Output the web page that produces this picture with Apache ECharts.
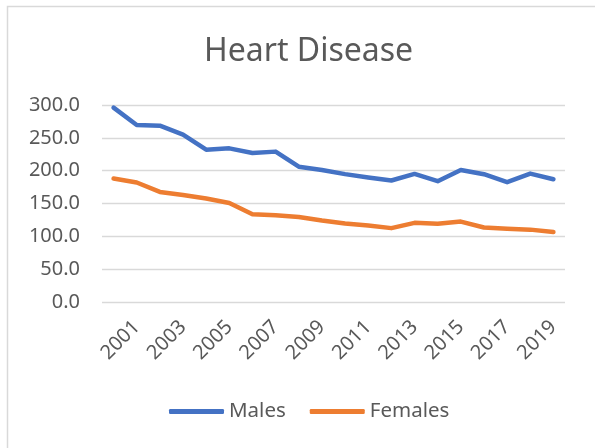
<!DOCTYPE html>
<html>
<head>
<meta charset="utf-8">
<script src="https://cdn.jsdelivr.net/npm/echarts@6/dist/echarts.min.js"></script>
<style>
  html, body { margin: 0; padding: 0; background: #fff; }
  #main { width: 595px; height: 448px; }
</style>
</head>
<body>
<div id="main"></div>
<script>
// years on the category axis, only odd years get a label
var years = ['2000', '2001', '2002', '2003', '2004', '2005', '2006', '2007', '2008', '2009',
             '2010', '2011', '2012', '2013', '2014', '2015', '2016', '2017', '2018', '2019'];
var males = [296, 269.5, 268.5, 255, 232, 234, 227, 229, 206, 201,
             194.7, 189.6, 185, 195, 184, 201, 194.6, 182.5, 195.5, 187];
var females = [188, 182, 167.6, 163, 157.5, 150.8, 133.6, 132, 129.5, 124,
               119.5, 116.5, 112.5, 120.5, 119, 122.5, 113.5, 111.7, 110.2, 106.6];
var yTicks = [0, 50, 100, 150, 200, 250, 300];

var txtColor = '#595959';
var fontName = 'Noto Sans';

var myChart = echarts.init(document.getElementById('main'));
var option = {
    backgroundColor: '#fff',
    animation: false,
    color: ['#4472c4', '#ed7d31'],
    title: {
        text: 'Heart Disease',
        left: 199,
        top: 31,
        textStyle: { color: txtColor, fontFamily: fontName, fontSize: 32, fontWeight: 'normal' }
    },
    graphic: [{
        type: 'rect',
        shape: { x: 7.5, y: 6.5, width: 700, height: 600 },
        style: { fill: 'none', stroke: '#d9d9d9', lineWidth: 1.5 },
        silent: true
    }],
    legend: {
        top: 401,
        left: 169,
        padding: 0,
        icon: 'roundRect',
        itemWidth: 55,
        itemHeight: 5,
        itemGap: 24,
        textStyle: { color: txtColor, fontFamily: fontName, fontSize: 20.5 },
        data: ['Males', 'Females']
    },
    grid: {
        left: 102,
        right: 30,
        top: 105,
        bottom: 146
    },
    xAxis: {
        type: 'category',
        data: years,
        boundaryGap: true,
        axisLine: { show: false },
        axisTick: { show: false },
        axisLabel: {
            color: txtColor,
            fontFamily: fontName,
            fontSize: 20,
            rotate: 45,
            margin: 22,
            interval: function (idx) { return idx % 2 === 1; }
        }
    },
    yAxis: {
        type: 'value',
        min: yTicks[0],
        max: yTicks[yTicks.length - 1],
        interval: 50,
        axisLine: { show: false },
        axisTick: { show: false },
        splitLine: { lineStyle: { color: '#d9d9d9', width: 1.3 } },
        axisLabel: {
            color: txtColor,
            fontFamily: fontName,
            fontSize: 20,
            margin: 22,
            formatter: function (v) { return v.toFixed(1); }
        }
    },
    series: [
        {
            name: 'Males',
            type: 'line',
            data: males,
            symbol: 'none',
            lineStyle: { width: 4.5, cap: 'round', join: 'round' }
        },
        {
            name: 'Females',
            type: 'line',
            data: females,
            symbol: 'none',
            lineStyle: { width: 4.5, cap: 'round', join: 'round' }
        }
    ]
};
myChart.setOption(option);
</script>
</body>
</html>
